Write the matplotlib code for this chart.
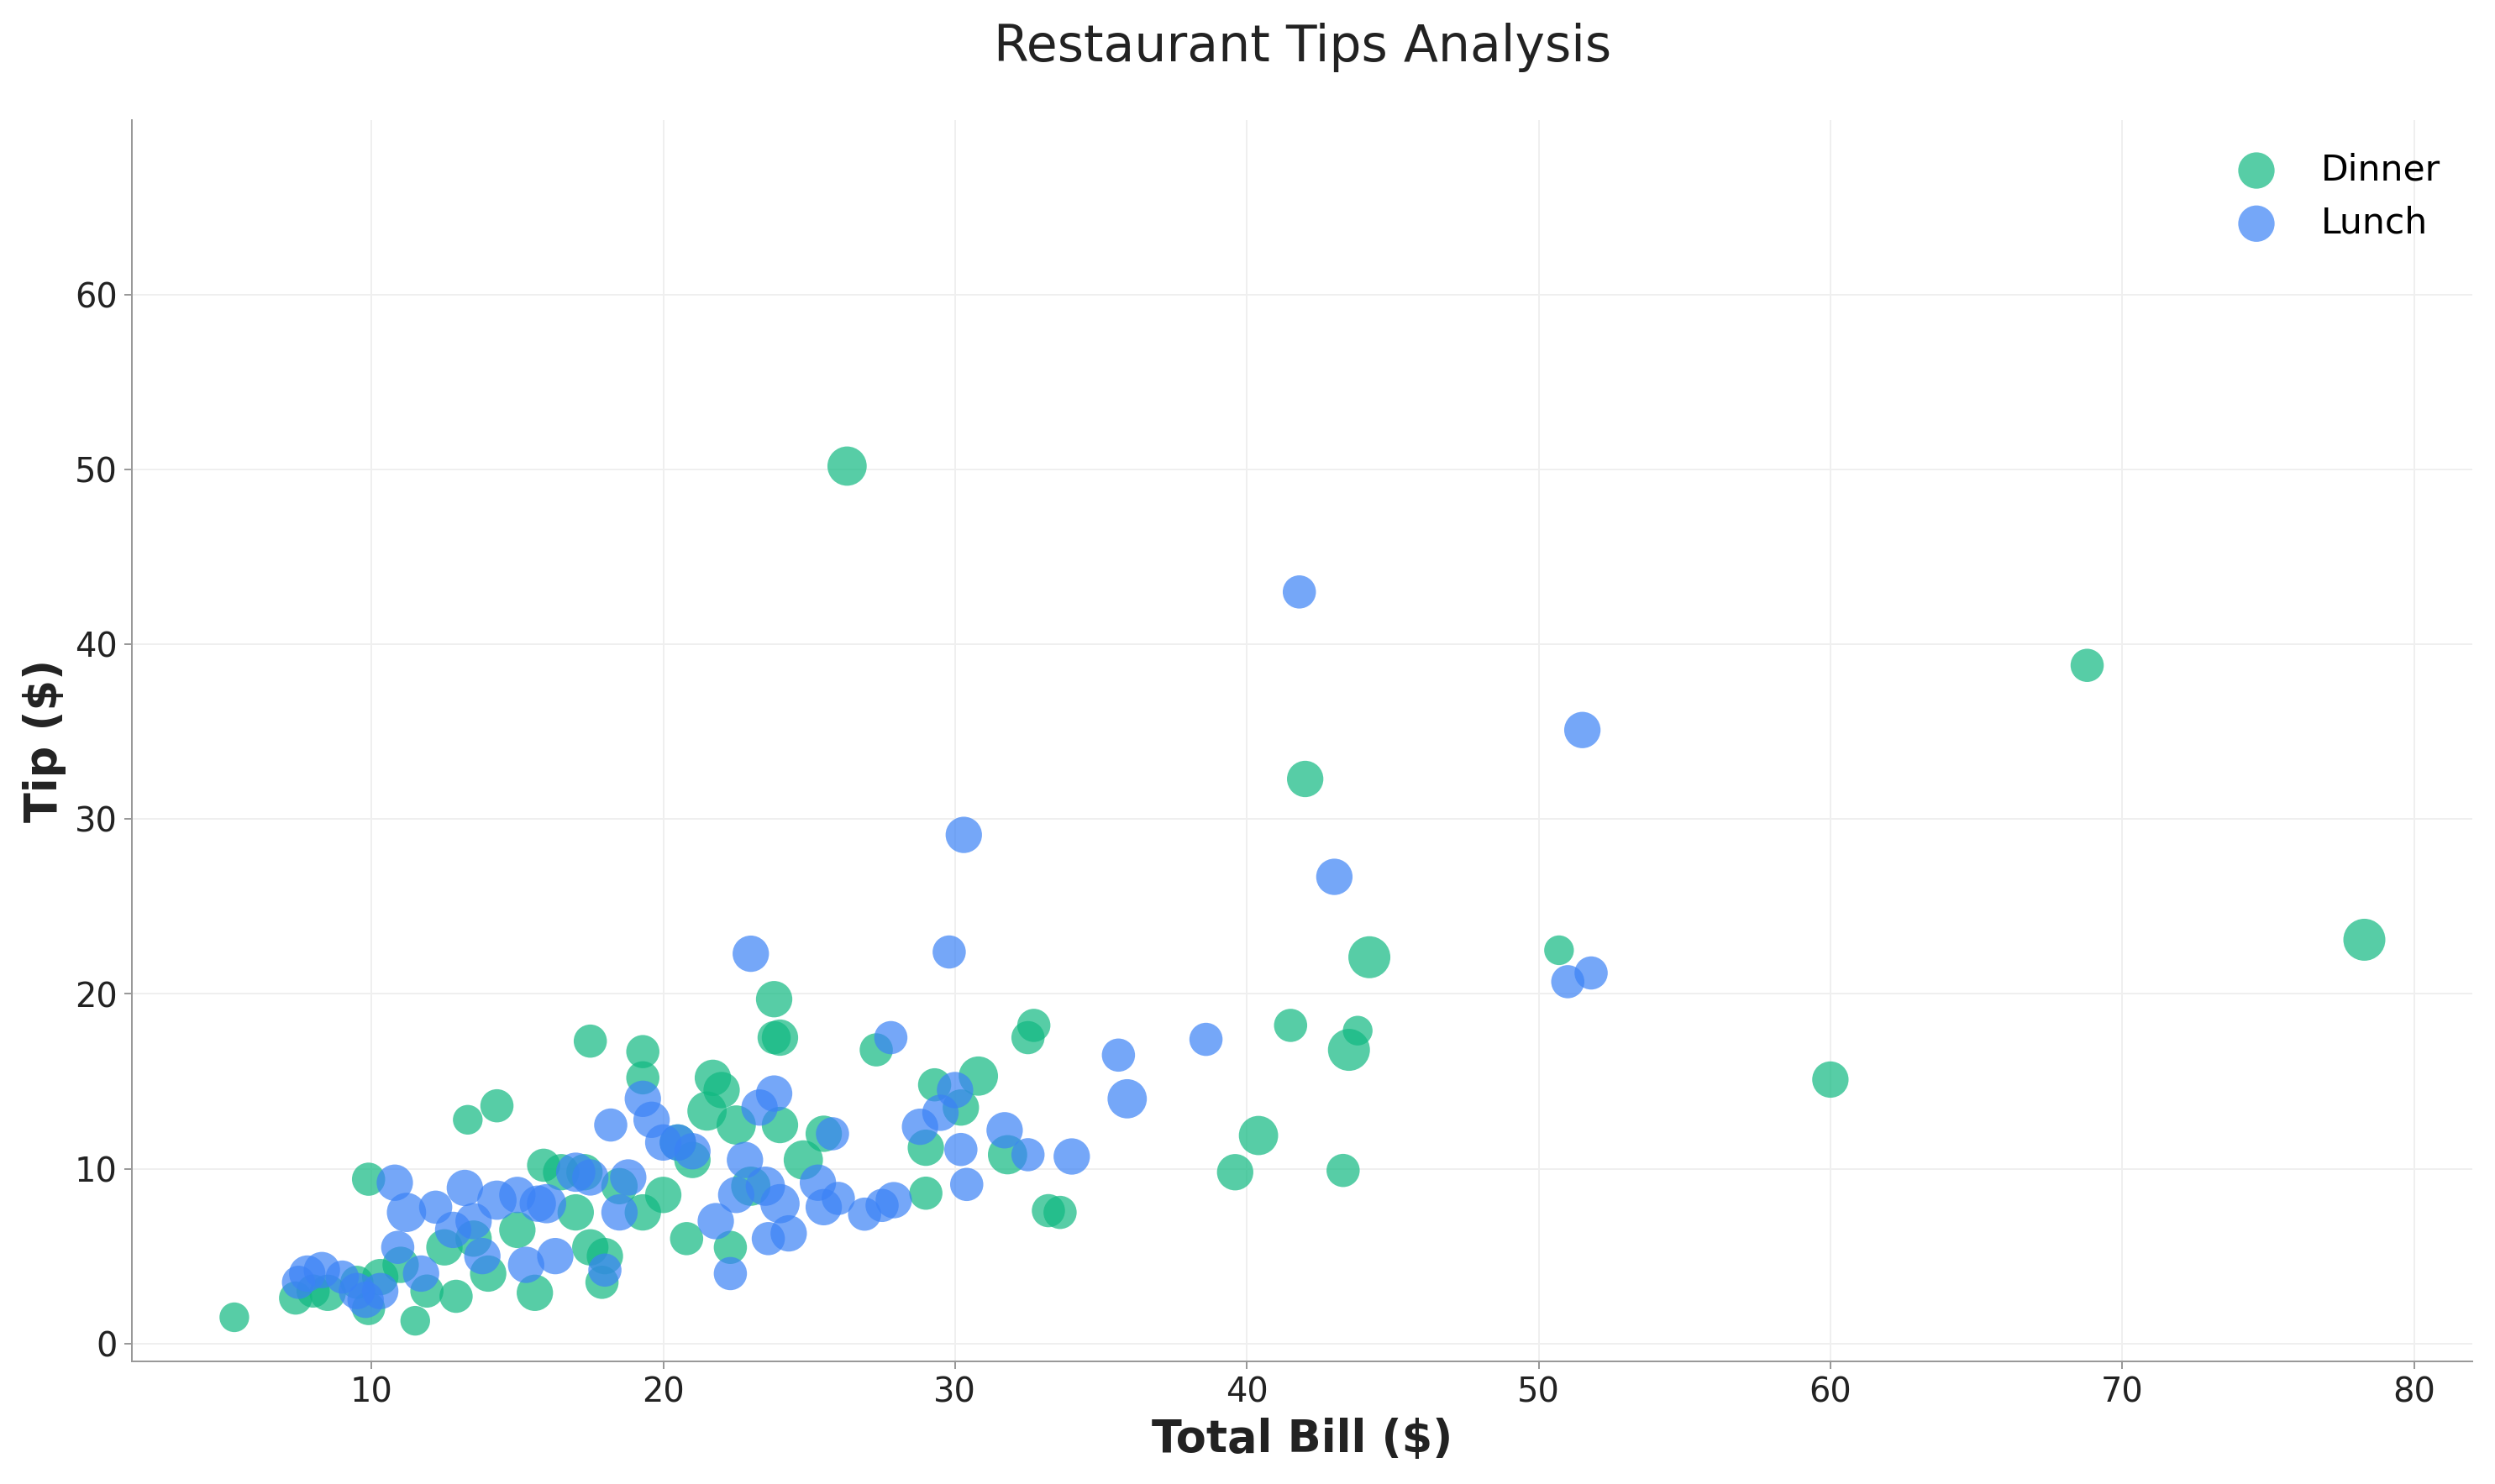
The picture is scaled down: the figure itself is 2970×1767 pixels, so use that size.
import matplotlib.pyplot as plt

# Dinner data
dinner_bill = [5.3, 7.4, 8.0, 8.5, 9.5, 9.9, 9.9, 10.3, 11.0, 11.5, 11.9, 12.5, 12.9, 13.3, 13.5, 14.0,
               14.3, 15.0, 15.6, 15.9, 16.5, 17.0, 17.3, 17.5, 17.5, 17.9, 18.0, 18.5, 19.3, 19.3, 19.3,
               20.0, 20.5, 20.8, 21.0, 21.5, 21.7, 22.0, 22.3, 22.5, 23.0, 23.8, 23.8, 24.0, 24.0, 24.8,
               25.5, 26.3, 27.3, 29.0, 29.0, 29.3, 30.2, 30.8, 31.8, 32.5, 32.7, 33.2, 33.6, 39.6, 40.4,
               41.5, 42.0, 43.3, 43.5, 43.8, 44.2, 50.7, 60.0, 68.8, 78.3]
dinner_tip = [1.5, 2.6, 3.0, 2.9, 3.5, 9.4, 2.0, 3.8, 4.5, 1.3, 3.0, 5.5, 2.7, 12.8, 6.0, 4.0,
              13.6, 6.5, 2.9, 10.2, 9.8, 7.5, 9.8, 17.3, 5.5, 3.5, 5.0, 9.0, 16.7, 15.2, 7.5,
              8.5, 11.5, 6.0, 10.5, 13.3, 15.2, 14.5, 5.5, 12.5, 9.0, 19.7, 17.5, 17.5, 12.5, 10.5,
              12.0, 50.2, 16.8, 8.6, 11.2, 14.8, 13.5, 15.3, 10.8, 17.5, 18.2, 7.6, 7.5, 9.8, 11.9,
              18.2, 32.3, 9.9, 16.8, 17.9, 22.1, 22.5, 15.1, 38.8, 23.1]
dinner_size = [200, 250, 250, 300, 250, 250, 250, 300, 300, 200, 250, 300, 250, 200, 300, 300,
               250, 300, 300, 250, 300, 300, 300, 250, 300, 250, 300, 300, 250, 250, 300,
               300, 300, 250, 300, 350, 300, 300, 250, 350, 350, 300, 250, 300, 300, 350,
               300, 350, 250, 250, 300, 250, 300, 350, 350, 250, 250, 250, 250, 300, 350,
               250, 300, 250, 400, 200, 400, 200, 300, 250, 400]

# Lunch data
lunch_bill = [7.5, 7.8, 8.3, 9.0, 9.5, 9.8, 10.3, 10.8, 10.9, 11.2, 11.7, 12.2, 12.8, 13.2, 13.5, 13.8,
              14.3, 15.0, 15.3, 15.7, 16.0, 16.3, 17.0, 17.5, 18.0, 18.2, 18.5, 18.8, 19.3, 19.6, 20.0,
              20.5, 21.0, 21.8, 22.3, 22.5, 22.8, 23.0, 23.3, 23.5, 23.6, 23.8, 24.0, 24.3, 25.3, 25.5,
              25.8, 26.0, 26.9, 27.5, 27.8, 27.9, 28.8, 29.5, 29.8, 30.0, 30.3, 30.2, 30.4, 31.7, 32.5,
              34.0, 35.6, 35.9, 38.6, 41.8, 43.0, 51.0, 51.5, 51.8]
lunch_tip = [3.5, 4.0, 4.2, 3.8, 3.0, 2.5, 3.0, 9.2, 5.5, 7.5, 4.0, 7.8, 6.5, 8.9, 7.0, 5.0,
             8.2, 8.5, 4.5, 8.0, 8.0, 5.0, 9.8, 9.5, 4.2, 12.5, 7.5, 9.5, 14.0, 12.8, 11.5,
             11.5, 11.0, 7.0, 4.0, 8.5, 10.5, 22.3, 13.5, 9.0, 6.0, 14.3, 8.0, 6.3, 9.2, 7.8,
             12.0, 8.3, 7.4, 7.9, 17.5, 8.2, 12.4, 13.2, 22.4, 14.5, 29.1, 11.1, 9.1, 12.2, 10.8,
             10.7, 16.5, 14.0, 17.4, 43.0, 26.7, 20.7, 35.1, 21.2]
lunch_size = [250, 300, 300, 250, 300, 300, 300, 300, 250, 350, 300, 250, 300, 300, 300, 300,
              350, 300, 300, 300, 350, 300, 350, 300, 250, 250, 300, 300, 300, 300, 300,
              300, 300, 300, 250, 300, 300, 300, 300, 350, 250, 300, 350, 300, 300, 300,
              250, 250, 250, 250, 250, 300, 300, 300, 250, 300, 300, 250, 250, 300, 250,
              300, 250, 350, 250, 250, 300, 250, 300, 250]

fig, ax = plt.subplots(figsize=(16.5, 9.817), dpi=180)
ax.scatter(dinner_bill, dinner_tip, s=dinner_size, color='#10b981', alpha=0.7,
           edgecolors='none', label='Dinner')
ax.scatter(lunch_bill, lunch_tip, s=lunch_size, color='#3b82f6', alpha=0.7,
           edgecolors='none', label='Lunch')

ax.set_xlim(1.8, 82)
ax.set_ylim(-1, 70)
ax.set_yticks(range(0, 61, 10))
ax.set_xticks(range(10, 81, 10))
ax.grid(True, color='#efefef', linewidth=0.8)
ax.set_axisbelow(True)
for s in ['top', 'right']:
    ax.spines[s].set_visible(False)
for s in ['left', 'bottom']:
    ax.spines[s].set_color('#999999')
ax.tick_params(labelsize=16, colors='#222222')
ax.tick_params(axis='both', color='#999999')

ax.set_xlabel('Total Bill ($)', fontsize=21, fontweight='bold', color='#222222')
ax.set_ylabel('Tip ($)', fontsize=21, fontweight='bold', color='#222222')
ax.set_title('Restaurant Tips Analysis', fontsize=24, pad=28, color='#222222')
ax.legend(loc='upper right', frameon=False, fontsize=17, markerscale=1.0)

plt.tight_layout()
plt.savefig('out.png', dpi=180)
